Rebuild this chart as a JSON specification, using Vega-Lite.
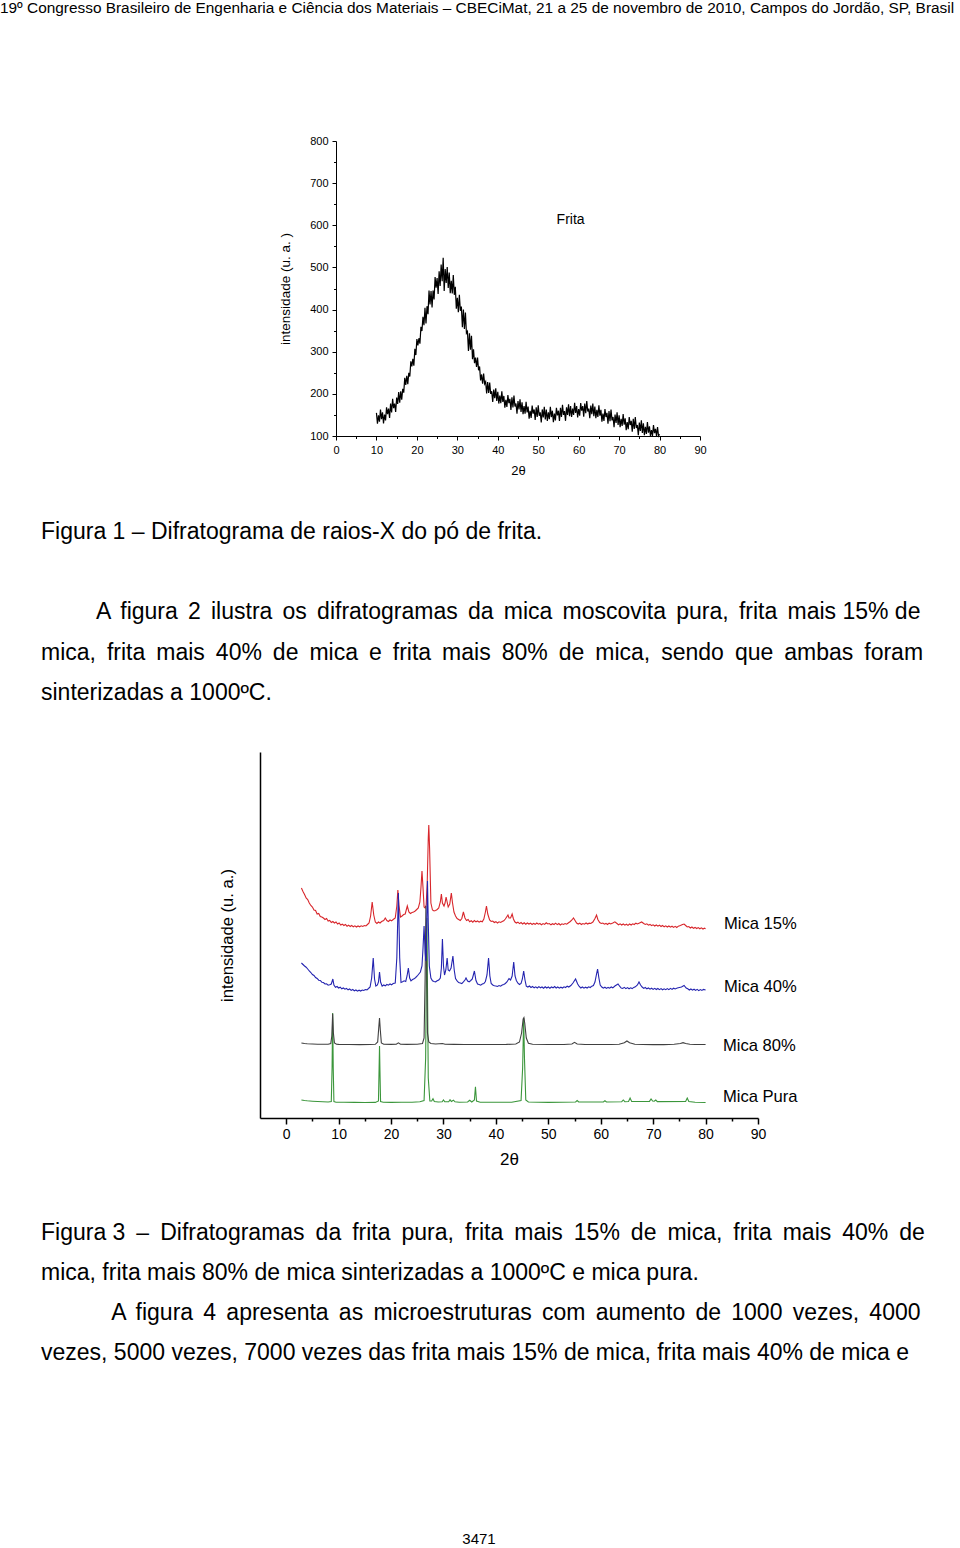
{
"$schema":"https://vega.github.io/schema/vega-lite/v6.json",
"background":"white",
"padding":0,
"config":{"font":"Liberation Sans","view":{"stroke":null},"axis":{"grid":false,"domainColor":"black","tickColor":"black","labelColor":"black","titleColor":"black","titleFontWeight":"normal","labelFlush":false,"labelOverlap":false,"labelBound":false},"title":{"color":"black","fontWeight":"normal"}},
"title":{"text":"19º Congresso Brasileiro de Engenharia e Ciência dos Materiais – CBECiMat, 21 a 25 de novembro de 2010, Campos do Jordão, SP, Brasil","anchor":"start","frame":"bounds","dx":-41,"offset":119,"fontSize":15.4},
"datasets":{
"frita":[{"x":10,"y":155},{"x":10.25,"y":129},{"x":10.5,"y":149},{"x":10.75,"y":134},{"x":11,"y":163},{"x":11.25,"y":140},{"x":11.5,"y":156},{"x":11.75,"y":130},{"x":12,"y":151},{"x":12.25,"y":137},{"x":12.5,"y":168},{"x":12.75,"y":152},{"x":13,"y":165},{"x":13.25,"y":143},{"x":13.5,"y":177},{"x":13.75,"y":156},{"x":14,"y":188},{"x":14.25,"y":166},{"x":14.5,"y":177},{"x":14.75,"y":157},{"x":15,"y":191},{"x":15.25,"y":176},{"x":15.5,"y":204},{"x":15.75,"y":179},{"x":16,"y":206},{"x":16.25,"y":186},{"x":16.5,"y":212},{"x":16.75,"y":203},{"x":17,"y":238},{"x":17.25,"y":221},{"x":17.5,"y":243},{"x":17.75,"y":223},{"x":18,"y":250},{"x":18.25,"y":241},{"x":18.5,"y":277},{"x":18.75,"y":265},{"x":19,"y":283},{"x":19.25,"y":267},{"x":19.5,"y":307},{"x":19.75,"y":292},{"x":20,"y":330},{"x":20.25,"y":315},{"x":20.5,"y":332},{"x":20.75,"y":319},{"x":21,"y":359},{"x":21.25,"y":349},{"x":21.5,"y":383},{"x":21.75,"y":363},{"x":22,"y":404},{"x":22.25,"y":367},{"x":22.5,"y":408},{"x":22.75,"y":389},{"x":23,"y":445},{"x":23.25,"y":412},{"x":23.5,"y":444},{"x":23.75,"y":405},{"x":24,"y":445},{"x":24.25,"y":424},{"x":24.5,"y":477},{"x":24.75,"y":452},{"x":25,"y":475},{"x":25.25,"y":437},{"x":25.5,"y":491},{"x":25.75,"y":456},{"x":26,"y":507},{"x":26.25,"y":467},{"x":26.5,"y":523},{"x":26.75,"y":444},{"x":27,"y":496},{"x":27.25,"y":463},{"x":27.5,"y":501},{"x":27.75,"y":451},{"x":28,"y":488},{"x":28.25,"y":439},{"x":28.5,"y":468},{"x":28.75,"y":438},{"x":29,"y":482},{"x":29.25,"y":435},{"x":29.5,"y":454},{"x":29.75,"y":402},{"x":30,"y":428},{"x":30.25,"y":394},{"x":30.5,"y":435},{"x":30.75,"y":397},{"x":31,"y":407},{"x":31.25,"y":358},{"x":31.5,"y":400},{"x":31.75,"y":354},{"x":32,"y":393},{"x":32.25,"y":344},{"x":32.5,"y":348},{"x":32.75,"y":302},{"x":33,"y":344},{"x":33.25,"y":305},{"x":33.5,"y":338},{"x":33.75,"y":282},{"x":34,"y":306},{"x":34.25,"y":273},{"x":34.5,"y":286},{"x":34.75,"y":264},{"x":35,"y":286},{"x":35.25,"y":256},{"x":35.5,"y":265},{"x":35.75,"y":232},{"x":36,"y":246},{"x":36.25,"y":224},{"x":36.5,"y":248},{"x":36.75,"y":224},{"x":37,"y":229},{"x":37.25,"y":201},{"x":37.5,"y":228},{"x":37.75,"y":202},{"x":38,"y":227},{"x":38.25,"y":200},{"x":38.5,"y":206},{"x":38.75,"y":181},{"x":39,"y":210},{"x":39.25,"y":190},{"x":39.5,"y":213},{"x":39.75,"y":183},{"x":40,"y":205},{"x":40.25,"y":177},{"x":40.5,"y":196},{"x":40.75,"y":178},{"x":41,"y":206},{"x":41.25,"y":181},{"x":41.5,"y":195},{"x":41.75,"y":167},{"x":42,"y":186},{"x":42.25,"y":169},{"x":42.5,"y":197},{"x":42.75,"y":178},{"x":43,"y":188},{"x":43.25,"y":162},{"x":43.5,"y":192},{"x":43.75,"y":168},{"x":44,"y":196},{"x":44.25,"y":170},{"x":44.5,"y":177},{"x":44.75,"y":153},{"x":45,"y":183},{"x":45.25,"y":163},{"x":45.5,"y":187},{"x":45.75,"y":157},{"x":46,"y":180},{"x":46.25,"y":152},{"x":46.5,"y":171},{"x":46.75,"y":153},{"x":47,"y":181},{"x":47.25,"y":156},{"x":47.5,"y":170},{"x":47.75,"y":141},{"x":48,"y":160},{"x":48.25,"y":143},{"x":48.5,"y":172},{"x":48.75,"y":153},{"x":49,"y":163},{"x":49.25,"y":138},{"x":49.5,"y":168},{"x":49.75,"y":145},{"x":50,"y":173},{"x":50.25,"y":148},{"x":50.5,"y":156},{"x":50.75,"y":132},{"x":51,"y":163},{"x":51.25,"y":144},{"x":51.5,"y":169},{"x":51.75,"y":139},{"x":52,"y":163},{"x":52.25,"y":136},{"x":52.5,"y":156},{"x":52.75,"y":140},{"x":53,"y":169},{"x":53.25,"y":145},{"x":53.5,"y":160},{"x":53.75,"y":133},{"x":54,"y":153},{"x":54.25,"y":137},{"x":54.5,"y":167},{"x":54.75,"y":149},{"x":55,"y":160},{"x":55.25,"y":136},{"x":55.5,"y":167},{"x":55.75,"y":145},{"x":56,"y":174},{"x":56.25,"y":150},{"x":56.5,"y":159},{"x":56.75,"y":136},{"x":57,"y":168},{"x":57.25,"y":150},{"x":57.5,"y":175},{"x":57.75,"y":147},{"x":58,"y":171},{"x":58.25,"y":145},{"x":58.5,"y":165},{"x":58.75,"y":150},{"x":59,"y":179},{"x":59.25,"y":155},{"x":59.5,"y":171},{"x":59.75,"y":144},{"x":60,"y":164},{"x":60.25,"y":148},{"x":60.5,"y":178},{"x":60.75,"y":160},{"x":61,"y":171},{"x":61.25,"y":146},{"x":61.5,"y":177},{"x":61.75,"y":154},{"x":62,"y":183},{"x":62.25,"y":158},{"x":62.5,"y":165},{"x":62.75,"y":142},{"x":63,"y":172},{"x":63.25,"y":152},{"x":63.5,"y":177},{"x":63.75,"y":147},{"x":64,"y":170},{"x":64.25,"y":142},{"x":64.5,"y":162},{"x":64.75,"y":145},{"x":65,"y":173},{"x":65.25,"y":148},{"x":65.5,"y":162},{"x":65.75,"y":134},{"x":66,"y":153},{"x":66.25,"y":136},{"x":66.5,"y":164},{"x":66.75,"y":145},{"x":67,"y":155},{"x":67.25,"y":129},{"x":67.5,"y":159},{"x":67.75,"y":135},{"x":68,"y":163},{"x":68.25,"y":137},{"x":68.5,"y":145},{"x":68.75,"y":121},{"x":69,"y":151},{"x":69.25,"y":131},{"x":69.5,"y":156},{"x":69.75,"y":126},{"x":70,"y":149},{"x":70.25,"y":121},{"x":70.5,"y":141},{"x":70.75,"y":124},{"x":71,"y":152},{"x":71.25,"y":127},{"x":71.5,"y":142},{"x":71.75,"y":114},{"x":72,"y":133},{"x":72.25,"y":116},{"x":72.5,"y":145},{"x":72.75,"y":126},{"x":73,"y":136},{"x":73.25,"y":110},{"x":73.5,"y":141},{"x":73.75,"y":117},{"x":74,"y":145},{"x":74.25,"y":119},{"x":74.5,"y":126},{"x":74.75,"y":102},{"x":75,"y":132},{"x":75.25,"y":112},{"x":75.5,"y":137},{"x":75.75,"y":107},{"x":76,"y":130},{"x":76.25,"y":102},{"x":76.5,"y":122},{"x":76.75,"y":105},{"x":77,"y":133},{"x":77.25,"y":108},{"x":77.5,"y":123},{"x":77.75,"y":100},{"x":78,"y":114},{"x":78.25,"y":100},{"x":78.5,"y":126},{"x":78.75,"y":107},{"x":79,"y":117},{"x":79.25,"y":100},{"x":79.5,"y":121},{"x":79.75,"y":100},{"x":80,"y":104}],
"r15":[{"x":2.9,"y":2300},{"x":3.2,"y":2265},{"x":3.5,"y":2235},{"x":3.8,"y":2200},{"x":4.1,"y":2185},{"x":4.4,"y":2150},{"x":4.7,"y":2125},{"x":5,"y":2110},{"x":5.3,"y":2080},{"x":5.6,"y":2075},{"x":5.9,"y":2040},{"x":6.2,"y":2045},{"x":6.5,"y":2015},{"x":6.8,"y":2010},{"x":7.1,"y":2000},{"x":7.4,"y":1985},{"x":7.7,"y":1995},{"x":8,"y":1970},{"x":8.3,"y":1975},{"x":8.6,"y":1955},{"x":8.9,"y":1965},{"x":9.2,"y":1950},{"x":9.5,"y":1960},{"x":9.8,"y":1940},{"x":10.1,"y":1950},{"x":10.4,"y":1930},{"x":10.7,"y":1938},{"x":11,"y":1925},{"x":11.3,"y":1935},{"x":11.6,"y":1918},{"x":11.9,"y":1928},{"x":12.2,"y":1915},{"x":12.5,"y":1925},{"x":12.8,"y":1912},{"x":13.1,"y":1922},{"x":13.4,"y":1910},{"x":13.7,"y":1920},{"x":14,"y":1912},{"x":14.3,"y":1922},{"x":14.6,"y":1915},{"x":14.9,"y":1925},{"x":15.2,"y":1920},{"x":15.5,"y":1935},{"x":15.8,"y":1950},{"x":16.1,"y":2020},{"x":16.4,"y":2160},{"x":16.7,"y":2030},{"x":17,"y":1960},{"x":17.3,"y":1945},{"x":17.6,"y":1960},{"x":17.9,"y":1950},{"x":18.2,"y":1965},{"x":18.6,"y":1975},{"x":18.9,"y":2000},{"x":19.2,"y":1975},{"x":19.5,"y":1965},{"x":19.8,"y":1980},{"x":20.1,"y":1972},{"x":20.4,"y":1985},{"x":20.8,"y":2000},{"x":21.1,"y":2120},{"x":21.3,"y":2280},{"x":21.5,"y":2130},{"x":21.8,"y":2010},{"x":22.1,"y":2020},{"x":22.4,"y":2035},{"x":22.7,"y":2040},{"x":23.1,"y":2120},{"x":23.4,"y":2060},{"x":23.7,"y":2045},{"x":24,"y":2055},{"x":24.3,"y":2060},{"x":24.6,"y":2070},{"x":24.9,"y":2085},{"x":25.2,"y":2100},{"x":25.5,"y":2160},{"x":25.7,"y":2300},{"x":25.9,"y":2470},{"x":26.1,"y":2300},{"x":26.3,"y":2110},{"x":26.5,"y":2100},{"x":26.7,"y":2130},{"x":26.9,"y":2350},{"x":27.1,"y":2800},{"x":27.2,"y":2930},{"x":27.35,"y":2700},{"x":27.6,"y":2150},{"x":27.9,"y":2080},{"x":28.2,"y":2070},{"x":28.5,"y":2075},{"x":28.8,"y":2085},{"x":29.1,"y":2100},{"x":29.4,"y":2160},{"x":29.6,"y":2240},{"x":29.8,"y":2150},{"x":30.1,"y":2120},{"x":30.3,"y":2150},{"x":30.5,"y":2210},{"x":30.7,"y":2160},{"x":30.9,"y":2110},{"x":31.2,"y":2140},{"x":31.5,"y":2250},{"x":31.7,"y":2160},{"x":32,"y":2060},{"x":32.3,"y":2020},{"x":32.6,"y":1995},{"x":32.9,"y":1985},{"x":33.2,"y":1975},{"x":33.5,"y":1995},{"x":33.8,"y":2060},{"x":34.1,"y":2000},{"x":34.4,"y":1975},{"x":34.7,"y":1985},{"x":35,"y":1962},{"x":35.3,"y":1972},{"x":35.6,"y":1958},{"x":35.9,"y":1975},{"x":36.2,"y":1962},{"x":36.5,"y":1970},{"x":36.8,"y":1958},{"x":37.1,"y":1968},{"x":37.4,"y":1962},{"x":37.7,"y":1990},{"x":38,"y":2060},{"x":38.2,"y":2120},{"x":38.45,"y":2040},{"x":38.8,"y":1980},{"x":39.1,"y":1965},{"x":39.4,"y":1970},{"x":39.7,"y":1955},{"x":40,"y":1963},{"x":40.3,"y":1950},{"x":40.6,"y":1962},{"x":40.9,"y":1955},{"x":41.2,"y":1965},{"x":41.5,"y":1972},{"x":41.8,"y":1990},{"x":42.05,"y":2010},{"x":42.3,"y":2030},{"x":42.5,"y":2000},{"x":42.8,"y":2000},{"x":43.1,"y":2040},{"x":43.35,"y":1990},{"x":43.6,"y":1962},{"x":43.9,"y":1950},{"x":44.2,"y":1958},{"x":44.5,"y":1944},{"x":44.8,"y":1955},{"x":45.1,"y":1940},{"x":45.4,"y":1952},{"x":45.7,"y":1938},{"x":46,"y":1950},{"x":46.3,"y":1940},{"x":46.6,"y":1948},{"x":46.9,"y":1935},{"x":47.2,"y":1946},{"x":47.5,"y":1937},{"x":47.8,"y":1950},{"x":48.1,"y":1938},{"x":48.4,"y":1945},{"x":48.7,"y":1932},{"x":49,"y":1944},{"x":49.3,"y":1936},{"x":49.6,"y":1952},{"x":49.9,"y":1940},{"x":50.2,"y":1945},{"x":50.5,"y":1932},{"x":50.8,"y":1943},{"x":51.1,"y":1935},{"x":51.4,"y":1948},{"x":51.7,"y":1934},{"x":52,"y":1945},{"x":52.3,"y":1930},{"x":52.6,"y":1942},{"x":52.9,"y":1935},{"x":53.2,"y":1944},{"x":53.5,"y":1938},{"x":53.8,"y":1950},{"x":54.2,"y":1965},{"x":54.5,"y":1980},{"x":54.8,"y":2000},{"x":55.1,"y":1975},{"x":55.4,"y":1950},{"x":55.7,"y":1940},{"x":56,"y":1948},{"x":56.3,"y":1935},{"x":56.6,"y":1945},{"x":56.9,"y":1938},{"x":57.2,"y":1950},{"x":57.5,"y":1940},{"x":57.8,"y":1948},{"x":58.1,"y":1945},{"x":58.5,"y":1960},{"x":58.9,"y":1995},{"x":59.2,"y":2030},{"x":59.45,"y":1985},{"x":59.8,"y":1955},{"x":60.1,"y":1945},{"x":60.4,"y":1950},{"x":60.7,"y":1938},{"x":61,"y":1946},{"x":61.3,"y":1935},{"x":61.6,"y":1948},{"x":61.9,"y":1940},{"x":62.3,"y":1950},{"x":62.7,"y":1962},{"x":63.1,"y":1945},{"x":63.4,"y":1932},{"x":63.7,"y":1942},{"x":64,"y":1930},{"x":64.3,"y":1940},{"x":64.6,"y":1928},{"x":64.9,"y":1938},{"x":65.2,"y":1926},{"x":65.5,"y":1940},{"x":65.8,"y":1930},{"x":66.1,"y":1942},{"x":66.4,"y":1935},{"x":66.7,"y":1948},{"x":67,"y":1940},{"x":67.4,"y":1950},{"x":67.8,"y":1960},{"x":68.2,"y":1945},{"x":68.5,"y":1935},{"x":68.8,"y":1942},{"x":69.1,"y":1928},{"x":69.4,"y":1936},{"x":69.7,"y":1924},{"x":70,"y":1932},{"x":70.3,"y":1920},{"x":70.6,"y":1930},{"x":70.9,"y":1918},{"x":71.2,"y":1928},{"x":71.5,"y":1915},{"x":71.8,"y":1925},{"x":72.1,"y":1912},{"x":72.4,"y":1922},{"x":72.7,"y":1910},{"x":73,"y":1920},{"x":73.3,"y":1908},{"x":73.6,"y":1918},{"x":73.9,"y":1906},{"x":74.2,"y":1916},{"x":74.5,"y":1905},{"x":74.8,"y":1918},{"x":75.2,"y":1925},{"x":75.6,"y":1935},{"x":75.9,"y":1940},{"x":76.2,"y":1925},{"x":76.5,"y":1910},{"x":76.8,"y":1915},{"x":77.1,"y":1900},{"x":77.4,"y":1910},{"x":77.7,"y":1897},{"x":78,"y":1906},{"x":78.3,"y":1895},{"x":78.6,"y":1904},{"x":78.9,"y":1892},{"x":79.2,"y":1902},{"x":79.5,"y":1890},{"x":79.8,"y":1898},{"x":80,"y":1893}],
"b40":[{"x":2.9,"y":1550},{"x":3.2,"y":1535},{"x":3.5,"y":1520},{"x":3.8,"y":1508},{"x":4.1,"y":1490},{"x":4.4,"y":1470},{"x":4.7,"y":1455},{"x":5,"y":1435},{"x":5.3,"y":1425},{"x":5.6,"y":1405},{"x":5.9,"y":1395},{"x":6.2,"y":1378},{"x":6.5,"y":1375},{"x":6.8,"y":1358},{"x":7.1,"y":1355},{"x":7.4,"y":1340},{"x":7.7,"y":1342},{"x":8,"y":1328},{"x":8.3,"y":1332},{"x":8.6,"y":1340},{"x":8.9,"y":1390},{"x":9.1,"y":1330},{"x":9.4,"y":1308},{"x":9.7,"y":1315},{"x":10,"y":1300},{"x":10.3,"y":1308},{"x":10.6,"y":1292},{"x":10.9,"y":1300},{"x":11.2,"y":1288},{"x":11.5,"y":1296},{"x":11.8,"y":1282},{"x":12.1,"y":1290},{"x":12.4,"y":1276},{"x":12.7,"y":1285},{"x":13,"y":1272},{"x":13.3,"y":1280},{"x":13.6,"y":1268},{"x":13.9,"y":1278},{"x":14.2,"y":1270},{"x":14.5,"y":1280},{"x":14.8,"y":1275},{"x":15.1,"y":1285},{"x":15.4,"y":1282},{"x":15.7,"y":1295},{"x":16,"y":1310},{"x":16.3,"y":1400},{"x":16.6,"y":1600},{"x":16.85,"y":1390},{"x":17.1,"y":1320},{"x":17.4,"y":1330},{"x":17.6,"y":1360},{"x":17.8,"y":1460},{"x":18,"y":1360},{"x":18.3,"y":1318},{"x":18.6,"y":1330},{"x":18.9,"y":1322},{"x":19.2,"y":1335},{"x":19.5,"y":1328},{"x":19.8,"y":1340},{"x":20.1,"y":1332},{"x":20.4,"y":1345},{"x":20.8,"y":1350},{"x":21.1,"y":1600},{"x":21.4,"y":2250},{"x":21.65,"y":1600},{"x":21.9,"y":1355},{"x":22.2,"y":1362},{"x":22.5,"y":1372},{"x":22.8,"y":1365},{"x":23.05,"y":1420},{"x":23.3,"y":1500},{"x":23.55,"y":1400},{"x":23.8,"y":1372},{"x":24.1,"y":1385},{"x":24.4,"y":1392},{"x":24.7,"y":1405},{"x":25,"y":1420},{"x":25.3,"y":1440},{"x":25.6,"y":1460},{"x":25.9,"y":1520},{"x":26.1,"y":1700},{"x":26.3,"y":1920},{"x":26.5,"y":1650},{"x":26.65,"y":1570},{"x":26.8,"y":1900},{"x":26.95,"y":2370},{"x":27.1,"y":1950},{"x":27.3,"y":1520},{"x":27.6,"y":1400},{"x":27.9,"y":1372},{"x":28.2,"y":1365},{"x":28.5,"y":1362},{"x":28.8,"y":1372},{"x":29.1,"y":1380},{"x":29.4,"y":1400},{"x":29.6,"y":1500},{"x":29.8,"y":1790},{"x":30,"y":1520},{"x":30.2,"y":1430},{"x":30.45,"y":1480},{"x":30.7,"y":1600},{"x":30.9,"y":1480},{"x":31.15,"y":1470},{"x":31.45,"y":1500},{"x":31.8,"y":1620},{"x":32.05,"y":1480},{"x":32.3,"y":1395},{"x":32.6,"y":1372},{"x":32.9,"y":1355},{"x":33.2,"y":1350},{"x":33.5,"y":1345},{"x":33.8,"y":1362},{"x":34.1,"y":1380},{"x":34.3,"y":1400},{"x":34.6,"y":1370},{"x":34.9,"y":1362},{"x":35.2,"y":1375},{"x":35.5,"y":1390},{"x":35.9,"y":1470},{"x":36.2,"y":1375},{"x":36.5,"y":1340},{"x":36.8,"y":1335},{"x":37.1,"y":1328},{"x":37.4,"y":1340},{"x":37.7,"y":1345},{"x":38,"y":1365},{"x":38.3,"y":1430},{"x":38.6,"y":1600},{"x":38.85,"y":1420},{"x":39.1,"y":1345},{"x":39.4,"y":1330},{"x":39.7,"y":1322},{"x":40,"y":1320},{"x":40.3,"y":1315},{"x":40.6,"y":1325},{"x":40.9,"y":1318},{"x":41.2,"y":1330},{"x":41.5,"y":1335},{"x":41.8,"y":1345},{"x":42.1,"y":1360},{"x":42.5,"y":1395},{"x":42.8,"y":1380},{"x":43.1,"y":1420},{"x":43.4,"y":1560},{"x":43.65,"y":1420},{"x":43.9,"y":1375},{"x":44.2,"y":1348},{"x":44.5,"y":1335},{"x":44.8,"y":1345},{"x":45.05,"y":1390},{"x":45.3,"y":1470},{"x":45.55,"y":1380},{"x":45.8,"y":1318},{"x":46.1,"y":1310},{"x":46.4,"y":1320},{"x":46.7,"y":1305},{"x":47,"y":1315},{"x":47.3,"y":1302},{"x":47.6,"y":1312},{"x":47.9,"y":1300},{"x":48.2,"y":1314},{"x":48.5,"y":1302},{"x":48.8,"y":1310},{"x":49.1,"y":1298},{"x":49.4,"y":1312},{"x":49.7,"y":1300},{"x":50,"y":1310},{"x":50.3,"y":1298},{"x":50.6,"y":1310},{"x":50.9,"y":1302},{"x":51.2,"y":1315},{"x":51.5,"y":1300},{"x":51.8,"y":1310},{"x":52.1,"y":1298},{"x":52.4,"y":1308},{"x":52.7,"y":1300},{"x":53,"y":1312},{"x":53.3,"y":1305},{"x":53.6,"y":1318},{"x":53.9,"y":1310},{"x":54.3,"y":1325},{"x":54.7,"y":1350},{"x":55.2,"y":1390},{"x":55.6,"y":1340},{"x":55.9,"y":1315},{"x":56.2,"y":1300},{"x":56.5,"y":1310},{"x":56.8,"y":1298},{"x":57.1,"y":1308},{"x":57.4,"y":1300},{"x":57.7,"y":1312},{"x":58,"y":1305},{"x":58.3,"y":1318},{"x":58.6,"y":1325},{"x":58.9,"y":1360},{"x":59.2,"y":1440},{"x":59.4,"y":1490},{"x":59.65,"y":1400},{"x":59.9,"y":1330},{"x":60.2,"y":1310},{"x":60.5,"y":1298},{"x":60.8,"y":1308},{"x":61.1,"y":1296},{"x":61.4,"y":1306},{"x":61.7,"y":1298},{"x":62,"y":1310},{"x":62.3,"y":1302},{"x":62.7,"y":1320},{"x":63,"y":1330},{"x":63.3,"y":1340},{"x":63.6,"y":1318},{"x":63.9,"y":1300},{"x":64.2,"y":1296},{"x":64.5,"y":1306},{"x":64.8,"y":1294},{"x":65.1,"y":1304},{"x":65.4,"y":1292},{"x":65.7,"y":1302},{"x":66,"y":1294},{"x":66.3,"y":1306},{"x":66.6,"y":1312},{"x":67,"y":1330},{"x":67.3,"y":1360},{"x":67.6,"y":1330},{"x":67.9,"y":1310},{"x":68.2,"y":1296},{"x":68.5,"y":1305},{"x":68.8,"y":1292},{"x":69.1,"y":1300},{"x":69.4,"y":1288},{"x":69.7,"y":1298},{"x":70,"y":1286},{"x":70.3,"y":1296},{"x":70.6,"y":1285},{"x":70.9,"y":1295},{"x":71.2,"y":1284},{"x":71.5,"y":1294},{"x":71.8,"y":1282},{"x":72.1,"y":1292},{"x":72.4,"y":1283},{"x":72.7,"y":1294},{"x":73,"y":1284},{"x":73.3,"y":1296},{"x":73.6,"y":1286},{"x":73.9,"y":1298},{"x":74.2,"y":1290},{"x":74.6,"y":1300},{"x":75,"y":1305},{"x":75.4,"y":1310},{"x":75.9,"y":1325},{"x":76.3,"y":1300},{"x":76.6,"y":1292},{"x":76.9,"y":1280},{"x":77.2,"y":1290},{"x":77.5,"y":1278},{"x":77.8,"y":1288},{"x":78.1,"y":1276},{"x":78.4,"y":1286},{"x":78.7,"y":1274},{"x":79,"y":1284},{"x":79.3,"y":1276},{"x":79.6,"y":1286},{"x":80,"y":1280}],
"m80":[{"x":2.9,"y":750},{"x":3.5,"y":745},{"x":4,"y":742},{"x":5,"y":740},{"x":6,"y":738},{"x":7,"y":737},{"x":8,"y":738},{"x":8.5,"y":745},{"x":8.7,"y":820},{"x":8.86,"y":1043},{"x":9,"y":850},{"x":9.2,"y":750},{"x":9.6,"y":738},{"x":10,"y":736},{"x":12,"y":735},{"x":14,"y":734},{"x":16,"y":735},{"x":17,"y":737},{"x":17.45,"y":760},{"x":17.65,"y":900},{"x":17.8,"y":1000},{"x":17.95,"y":880},{"x":18.15,"y":750},{"x":18.6,"y":737},{"x":20,"y":736},{"x":21,"y":738},{"x":21.4,"y":752},{"x":21.8,"y":737},{"x":23,"y":736},{"x":25,"y":738},{"x":26,"y":745},{"x":26.3,"y":800},{"x":26.5,"y":1400},{"x":26.65,"y":2120},{"x":26.8,"y":1500},{"x":26.95,"y":850},{"x":27.2,"y":760},{"x":27.6,"y":745},{"x":28.5,"y":740},{"x":29.8,"y":745},{"x":30.3,"y":738},{"x":32,"y":736},{"x":34,"y":735},{"x":36,"y":735},{"x":38,"y":735},{"x":40,"y":735},{"x":42,"y":736},{"x":43.8,"y":740},{"x":44.5,"y":760},{"x":44.9,"y":850},{"x":45.2,"y":990},{"x":45.35,"y":1003},{"x":45.5,"y":950},{"x":45.8,"y":800},{"x":46.2,"y":748},{"x":47,"y":738},{"x":50,"y":735},{"x":53,"y":735},{"x":54.5,"y":740},{"x":55,"y":757},{"x":55.5,"y":740},{"x":57,"y":735},{"x":60,"y":735},{"x":62,"y":735},{"x":63.5,"y":738},{"x":64.5,"y":752},{"x":65,"y":770},{"x":65.5,"y":752},{"x":66.5,"y":738},{"x":68,"y":735},{"x":70,"y":734},{"x":72,"y":734},{"x":74,"y":737},{"x":75.2,"y":745},{"x":75.7,"y":753},{"x":76.2,"y":745},{"x":77,"y":737},{"x":78,"y":735},{"x":80,"y":735}],
"pura":[{"x":2.9,"y":180},{"x":3.5,"y":175},{"x":4,"y":172},{"x":5,"y":168},{"x":6,"y":165},{"x":7,"y":162},{"x":8,"y":160},{"x":8.6,"y":165},{"x":8.75,"y":500},{"x":8.86,"y":1050},{"x":8.97,"y":500},{"x":9.1,"y":165},{"x":9.5,"y":158},{"x":11,"y":157},{"x":13,"y":156},{"x":15,"y":155},{"x":17,"y":156},{"x":17.6,"y":170},{"x":17.72,"y":500},{"x":17.8,"y":720},{"x":17.88,"y":480},{"x":18,"y":165},{"x":18.5,"y":157},{"x":20,"y":156},{"x":22,"y":158},{"x":24,"y":158},{"x":25.5,"y":162},{"x":26.3,"y":175},{"x":26.6,"y":600},{"x":26.75,"y":1500},{"x":26.85,"y":2000},{"x":26.95,"y":1300},{"x":27.1,"y":400},{"x":27.4,"y":170},{"x":27.75,"y":170},{"x":28,"y":193},{"x":28.25,"y":165},{"x":29,"y":160},{"x":29.75,"y":162},{"x":30,"y":180},{"x":30.25,"y":162},{"x":31,"y":163},{"x":31.25,"y":183},{"x":31.5,"y":165},{"x":31.9,"y":178},{"x":32.2,"y":162},{"x":33,"y":158},{"x":34.6,"y":160},{"x":35,"y":177},{"x":35.4,"y":160},{"x":35.9,"y":180},{"x":36.1,"y":313},{"x":36.3,"y":170},{"x":37,"y":158},{"x":40,"y":157},{"x":43,"y":158},{"x":44.8,"y":175},{"x":45.1,"y":500},{"x":45.3,"y":1000},{"x":45.45,"y":600},{"x":45.7,"y":180},{"x":46.2,"y":160},{"x":50,"y":156},{"x":55.2,"y":160},{"x":55.5,"y":175},{"x":55.8,"y":160},{"x":60.5,"y":160},{"x":60.8,"y":172},{"x":61.1,"y":160},{"x":64,"y":163},{"x":64.3,"y":180},{"x":64.6,"y":163},{"x":65.3,"y":165},{"x":65.6,"y":200},{"x":65.9,"y":165},{"x":69.3,"y":166},{"x":69.6,"y":190},{"x":69.9,"y":170},{"x":70.2,"y":168},{"x":70.5,"y":180},{"x":70.8,"y":164},{"x":76.2,"y":166},{"x":76.5,"y":200},{"x":76.8,"y":165},{"x":78,"y":158},{"x":80,"y":155}],
"labels":[{"x":83.5,"y":1940,"t":"Mica 15%"},{"x":83.5,"y":1310,"t":"Mica 40%"},{"x":83.3,"y":720,"t":"Mica 80%"},{"x":83.3,"y":210,"t":"Mica Pura"}]
},
"columns":1,
"align":"none",
"spacing":43,
"concat":[
{
"spacing":8,
"hconcat":[
{"width":10,"height":1,"data":{"values":[{}]},"mark":{"type":"rect","opacity":0}},
{
"width":364,"height":295,
"encoding":{
"x":{"field":"x","type":"quantitative","scale":{"domain":[0,90],"nice":false,"zero":false},"axis":{"title":"2θ","values":[0,5,10,15,20,25,30,35,40,45,50,55,60,65,70,75,80,85,90],"labelExpr":"datum.value % 10 === 0 ? datum.label : ''","tickSize":{"condition":{"test":"datum.value % 10 !== 0","value":2.5},"value":4},"labelFontSize":11,"labelPadding":4,"titleFontSize":13,"titlePadding":9,"domainWidth":1,"tickWidth":1}},
"y":{"field":"y","type":"quantitative","scale":{"domain":[100,800],"nice":false,"zero":false},"axis":{"title":"intensidade (u. a. )","values":[100,150,200,250,300,350,400,450,500,550,600,650,700,750,800],"labelExpr":"datum.value % 100 === 0 ? datum.label : ''","tickSize":{"condition":{"test":"datum.value % 100 !== 0","value":2.5},"value":4},"labelFontSize":11,"labelPadding":4,"titleFontSize":13.5,"titlePadding":17,"domainWidth":1,"tickWidth":1}}
},
"layer":[
{"data":{"name":"frita"},"mark":{"type":"line","color":"black","strokeWidth":1.2}},
{"data":{"values":[{"x":58,"y":612,"t":"Frita"}]},"mark":{"type":"text","fontSize":14,"color":"black"},"encoding":{"text":{"field":"t"}}}
]
}
]
},
{
"width":498,"height":366,
"title":{"text":["Figura 1 – Difratograma de raios-X do pó de frita.","\u200b","\u200b\u00a0\u00a0\u00a0\u00a0\u00a0\u00a0\u00a0\u00a0\u2006A \u2006figura \u20062 \u2006ilustra \u2006os \u2006difratogramas \u2006da \u2006mica \u2006moscovita \u2006pura, \u2006frita \u2006mais 15% de","mica, \u2009frita \u2009mais \u200940% \u2009de \u2009mica \u2009e \u2009frita \u2009mais \u200980% \u2009de \u2009mica, \u2009sendo \u2009que \u2009ambas \u2009foram","sinterizadas a 1000ºC."],"orient":"top","anchor":"start","frame":"group","dx":-219,"offset":47,"fontSize":23,"lineHeight":40.3},
"encoding":{
"x":{"field":"x","type":"quantitative","scale":{"domain":[-5,90],"nice":false,"zero":false},"axis":{"title":"2θ","values":[0,5,10,15,20,25,30,35,40,45,50,55,60,65,70,75,80,85,90],"labelExpr":"datum.value % 10 === 0 ? datum.label : ''","tickSize":{"condition":{"test":"datum.value % 10 !== 0","value":3},"value":6},"labelFontSize":14,"labelPadding":3,"titleFontSize":17,"titlePadding":10,"domainWidth":1.5,"tickWidth":1.5}},
"y":{"field":"y","type":"quantitative","scale":{"domain":[0,3660],"nice":false,"zero":false},"axis":{"title":"intensidade (u. a.)","ticks":false,"labels":false,"titleFontSize":16.6,"titlePadding":25,"domainWidth":1.5}}
},
"layer":[
{"data":{"name":"r15"},"mark":{"type":"line","color":"#d8262b","strokeWidth":1.1}},
{"data":{"name":"pura"},"mark":{"type":"line","color":"#3b963b","strokeWidth":1.1}},
{"data":{"name":"m80"},"mark":{"type":"line","color":"#404040","strokeWidth":1.1}},
{"data":{"name":"b40"},"mark":{"type":"line","color":"#2424b0","strokeWidth":1.1}},
{"data":{"name":"labels"},"mark":{"type":"text","align":"left","baseline":"middle","fontSize":16.6,"color":"black"},"encoding":{"text":{"field":"t"}}}
]
},
{
"width":498,"height":1,
"data":{"values":[{}]},
"mark":{"type":"rect","opacity":0},
"title":{"text":["Figura 3 \u2009– \u2009Difratogramas \u2009da \u2009frita \u2009pura, \u2009frita \u2009mais \u200915% \u2009de \u2009mica, \u2009frita \u2009mais \u200940% \u2009de","mica, frita mais 80% de mica sinterizadas a 1000ºC e mica pura.","\u200b\u00a0\u00a0\u00a0\u00a0\u00a0\u00a0\u00a0\u00a0\u00a0\u00a0\u00a0A \u2006figura \u20064 \u2006apresenta \u2006as \u2006microestruturas \u2006com \u2006aumento \u2006de \u20061000 \u2006vezes, \u20064000","vezes, 5000 vezes, 7000 vezes das frita mais 15% de mica, frita mais 40% de mica e"],"orient":"bottom","anchor":"start","frame":"group","dx":-219,"offset":11,"fontSize":23,"lineHeight":40}
},
{
"width":438,"height":110,
"data":{"values":[{}]},
"mark":{"type":"rect","opacity":0},
"title":{"text":"3471","orient":"bottom","anchor":"middle","frame":"group","offset":14,"fontSize":15}
}
]
}
